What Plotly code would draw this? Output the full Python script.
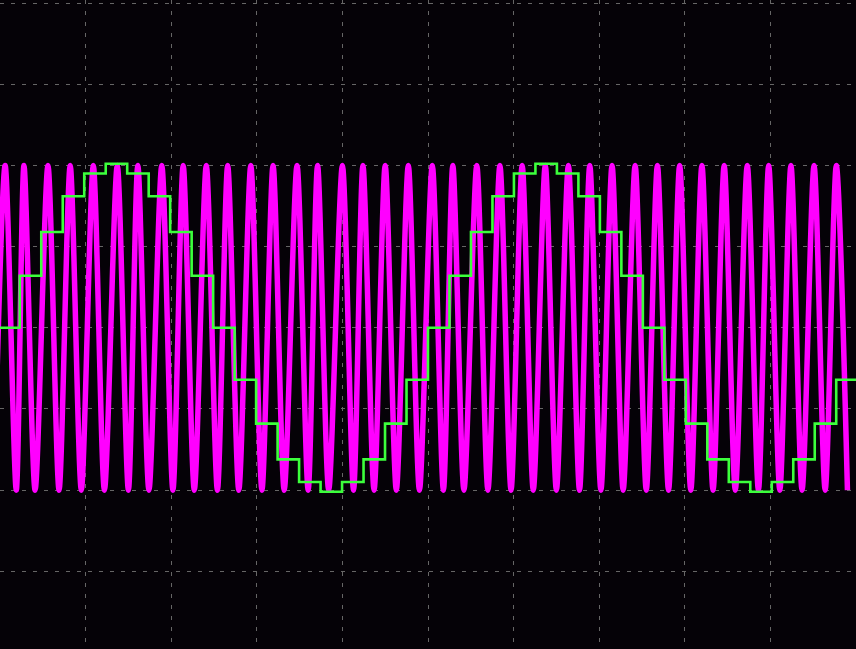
import plotly.graph_objects as go

# Screen: 10 horizontal x 8 vertical divisions, values in divisions.
X_RANGE = [0.0, 10.0]
Y_RANGE = [-3.956, 4.037]

# Channel 2 (magenta): turning points of the fast carrier, in divisions
carrier_peak_t = [0.06, 0.28, 0.56, 0.82, 1.09, 1.37, 1.61, 1.89, 2.14, 2.41,
                  2.66, 2.93, 3.19, 3.47, 3.71, 4.00, 4.24, 4.50, 4.77, 5.05,
                  5.29, 5.57, 5.84, 6.10, 6.37, 6.64, 6.89, 7.15, 7.42, 7.68,
                  7.94, 8.20, 8.46, 8.73, 8.98, 9.24, 9.51, 9.77]
carrier_trough_t = [-0.07, 0.19, 0.41, 0.69, 0.95, 1.22, 1.50, 1.74, 2.02, 2.27,
                    2.54, 2.79, 3.06, 3.32, 3.60, 3.84, 4.13, 4.37, 4.63, 4.90,
                    5.18, 5.42, 5.70, 5.97, 6.23, 6.50, 6.77, 7.02, 7.28, 7.55,
                    7.81, 8.07, 8.33, 8.59, 8.86, 9.11, 9.37, 9.64, 9.90]
carrier_high = 2.0
carrier_low = -2.0

# Channel 1 (green): held sample levels of the stepped sine
step_start = -0.02
step_width = 0.251
step_levels = [0.0, 0.64, 1.18, 1.62, 1.90, 2.02, 1.90, 1.62, 1.18, 0.64,
               0.0, -0.64, -1.18, -1.62, -1.90, -2.02, -1.90, -1.62, -1.18, -0.64,
               0.0, 0.64, 1.18, 1.62, 1.90, 2.02, 1.90, 1.62, 1.18, 0.64,
               0.0, -0.64, -1.18, -1.62, -1.90, -2.02, -1.90, -1.62, -1.18, -0.64,
               0.0]

# Interleave troughs and peaks in time order
carrier_t, carrier_v = [], []
for i, tt in enumerate(carrier_trough_t):
    carrier_t.append(tt)
    carrier_v.append(carrier_low)
    if i < len(carrier_peak_t):
        carrier_t.append(carrier_peak_t[i])
        carrier_v.append(carrier_high)

step_t = [step_start + i * step_width for i in range(len(step_levels))]
step_t.append(step_t[-1] + step_width)
step_v = step_levels + [step_levels[-1]]

fig = go.Figure()
fig.add_trace(go.Scatter(
    x=carrier_t, y=carrier_v, mode="lines",
    line=dict(color="#ff00ff", width=5.5, shape="spline", smoothing=0.8),
    hoverinfo="skip", showlegend=False,
))
fig.add_trace(go.Scatter(
    x=step_t, y=step_v, mode="lines",
    line=dict(color="#3cff3c", width=2.6, shape="hv"),
    hoverinfo="skip", showlegend=False,
))

axis_common = dict(
    showgrid=True, gridcolor="#666666", gridwidth=1, griddash="4px,7px",
    zeroline=False, showticklabels=False, ticks="", showline=False,
    fixedrange=True, dtick=1, tick0=0,
)
fig.update_xaxes(range=X_RANGE, **axis_common)
fig.update_yaxes(range=Y_RANGE, **axis_common)
fig.update_layout(
    width=856, height=649,
    margin=dict(l=0, r=0, t=0, b=0),
    paper_bgcolor="#050207", plot_bgcolor="#050207",
    showlegend=False,
)
fig.write_html("out.html", config={"displayModeBar": False})
